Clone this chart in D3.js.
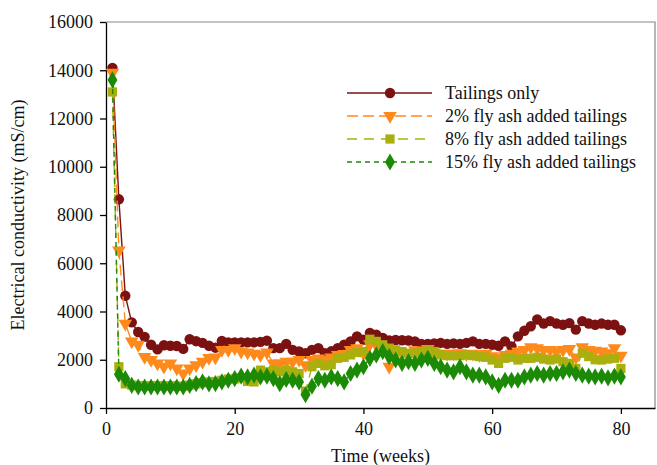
<!DOCTYPE html>
<html>
<head>
<meta charset="utf-8">
<script src="https://cdn.jsdelivr.net/npm/d3@7"></script>
<style>
  body { margin: 0; background: #fff; }
  svg { display: block; }
  text { font-family: "Liberation Serif", "Times New Roman", serif; fill: #111; }
  .axis path, .axis line { stroke: #000; stroke-width: 1.3px; }
  .axis text { font-size: 18px; }
</style>
</head>
<body>
<div id="svg"></div>
<script>
// weeks 1..80
var weeks = d3.range(1, 81);

var tailingsOnly = [14100, 8650, 4650, 3550, 3150, 2950, 2620, 2430, 2600, 2580,
  2570, 2450, 2850, 2770, 2700, 2580, 2500, 2780, 2720, 2720,
  2720, 2720, 2720, 2740, 2790, 2480, 2480, 2660, 2410, 2340,
  2270, 2410, 2480, 2270, 2350, 2480, 2620, 2760, 2970, 2830,
  3110, 3040, 2900, 2800, 2820, 2810, 2800, 2760, 2660, 2660,
  2680, 2700, 2660, 2680, 2660, 2700, 2760, 2660, 2660, 2620,
  2580, 2760, 2550, 2970, 3200, 3390, 3670, 3500, 3600, 3500,
  3450, 3520, 3250, 3600, 3500, 3450, 3500, 3450, 3450, 3220];

var flyAsh2 = [13900, 6530, 3500, 2760, 2620, 2120, 1990, 1850, 1710, 1850,
  1640, 1430, 1640, 1780, 1920, 2080, 2100, 2410, 2410, 2480,
  2340, 2300, 2250, 2200, 2300, 1850, 1850, 1920, 1920, 1990,
  1780, 1990, 2060, 2000, 2100, 2200, 2240, 2410, 2480, 2270,
  2650, 2600, 2500, 1710, 2300, 2250, 2200, 2400, 2350, 2450,
  2300, 2250, 2250, 2250, 2270, 2230, 2250, 2200, 2250, 2150,
  2100, 2200, 2250, 2340, 2410, 2520, 2480, 2410, 2410, 2340,
  2410, 2450, 2100, 2520, 2410, 2380, 2340, 2270, 2480, 2170];

var flyAsh8 = [13100, 1710, 1000, 950, 920, 920, 920, 920, 920, 920,
  900, 900, 950, 1000, 1050, 1080, 1100, 1150, 1200, 1200,
  1250, 1100, 1080, 1570, 1500, 1570, 1500, 1570, 1500, 1430,
  700, 1710, 1850, 1750, 1800, 2060, 2100, 2200, 2300, 2340,
  2850, 2760, 2620, 2480, 2410, 2340, 2270, 2270, 2340, 2410,
  2340, 2200, 2170, 2170, 2170, 2200, 2170, 2130, 2100, 1990,
  1850, 2060, 2100, 1990, 2060, 2060, 2100, 2030, 1990, 2030,
  1920, 1850, 1640, 2270, 2130, 2000, 1990, 2030, 2060, 1640];

var flyAsh15 = [13600, 1400, 1220, 940, 870, 870, 870, 870, 870, 870,
  870, 870, 940, 1010, 1080, 1000, 1010, 1080, 1150, 1220,
  1320, 1290, 1360, 1290, 1320, 1220, 1010, 1180, 1150, 1080,
  550, 900, 1220, 1150, 1290, 1220, 1080, 1430, 1570, 1710,
  2060, 2200, 2340, 2130, 1990, 1850, 1920, 1850, 1990, 2060,
  1850, 1710, 1570, 1500, 1710, 1500, 1360, 1360, 1290, 1080,
  940, 1150, 1150, 1150, 1290, 1360, 1430, 1360, 1430, 1430,
  1500, 1570, 1430, 1360, 1320, 1290, 1320, 1250, 1320, 1290];

var seriesNames = ["Tailings only", "2% fly ash added tailings",
  "8% fly ash added tailings", "15% fly ash added tailings"];
var xTicks = [0, 20, 40, 60, 80];
var yTicks = [0, 2000, 4000, 6000, 8000, 10000, 12000, 14000, 16000];

var series = [
  {name: seriesNames[0], values: tailingsOnly, color: "#7b1111", dash: null, symbol: d3.symbolCircle, size: 85, rot: 0},
  {name: seriesNames[1], values: flyAsh2, color: "#ff8a1c", dash: "11,5", symbol: d3.symbolTriangle, size: 80, rot: 180},
  {name: seriesNames[2], values: flyAsh8, color: "#a9b00e", dash: "10,7", symbol: d3.symbolSquare, size: 85, rot: 0},
  {name: seriesNames[3], values: flyAsh15, color: "#1b8a06", dash: "5,4", symbol: d3.symbolDiamond, size: 85, rot: 0}
];

var W = 657, H = 465,
    margin = {top: 22, right: 2, bottom: 57, left: 106},
    width = W - margin.left - margin.right,
    height = H - margin.top - margin.bottom;

var x = d3.scaleLinear().domain([0, 85.3]).range([0, width]);
var y = d3.scaleLinear().domain([0, 16000]).range([height, 0]);

var svg = d3.select('#svg').append('svg')
  .attr('width', W)
  .attr('height', H);

var g = svg.append('g')
  .attr('transform', 'translate(' + margin.left + ',' + margin.top + ')');

// frame (top / right)
g.append('path')
  .attr('d', 'M0,0H' + width + 'V' + height)
  .attr('fill', 'none')
  .attr('stroke', '#888')
  .attr('stroke-width', 1.2);

g.append('g')
  .attr('class', 'axis')
  .attr('transform', 'translate(0,' + height + ')')
  .call(d3.axisBottom(x).tickValues(xTicks).tickFormat(d3.format('d'))
    .tickSize(6).tickSizeOuter(0).tickPadding(8));

g.append('g')
  .attr('class', 'axis')
  .call(d3.axisLeft(y).tickValues(yTicks).tickFormat(d3.format('d'))
    .tickSize(6).tickSizeOuter(0).tickPadding(7));

g.append('text')
  .attr('x', width / 2)
  .attr('y', height + 54)
  .attr('text-anchor', 'middle')
  .style('font-size', '18px')
  .text('Time (weeks)');

g.append('text')
  .attr('transform', 'translate(' + (-82) + ',' + (height / 2) + ') rotate(-90)')
  .attr('text-anchor', 'middle')
  .style('font-size', '18px')
  .text('Electrical conductivity (mS/cm)');

var line = d3.line()
  .x(function(d, i) { return x(weeks[i]); })
  .y(function(d) { return y(d); });

series.forEach(function(s) {
  g.append('path')
    .attr('d', line(s.values))
    .attr('fill', 'none')
    .attr('stroke', s.color)
    .attr('stroke-width', 1.4)
    .attr('stroke-dasharray', s.dash);

  g.selectAll(null)
    .data(s.values)
    .enter().append('path')
    .attr('d', d3.symbol().type(s.symbol).size(s.size))
    .attr('transform', function(d, i) {
      return 'translate(' + x(weeks[i]) + ',' + y(d) + ') rotate(' + s.rot + ')';
    })
    .attr('fill', s.color);
});

// legend
var legend = svg.append('g').attr('transform', 'translate(347,93)');
series.forEach(function(s, i) {
  var row = legend.append('g').attr('transform', 'translate(0,' + (i * 23) + ')');
  row.append('line')
    .attr('x1', 0).attr('x2', 85)
    .attr('y1', 0).attr('y2', 0)
    .attr('stroke', s.color)
    .attr('stroke-width', 1.4)
    .attr('stroke-dasharray', s.dash);
  row.append('path')
    .attr('d', d3.symbol().type(s.symbol).size(s.size))
    .attr('transform', 'translate(43,0) rotate(' + s.rot + ')')
    .attr('fill', s.color);
  row.append('text')
    .attr('x', 98)
    .attr('y', 6)
    .style('font-size', '18px')
    .text(s.name);
});
</script>
</body>
</html>
